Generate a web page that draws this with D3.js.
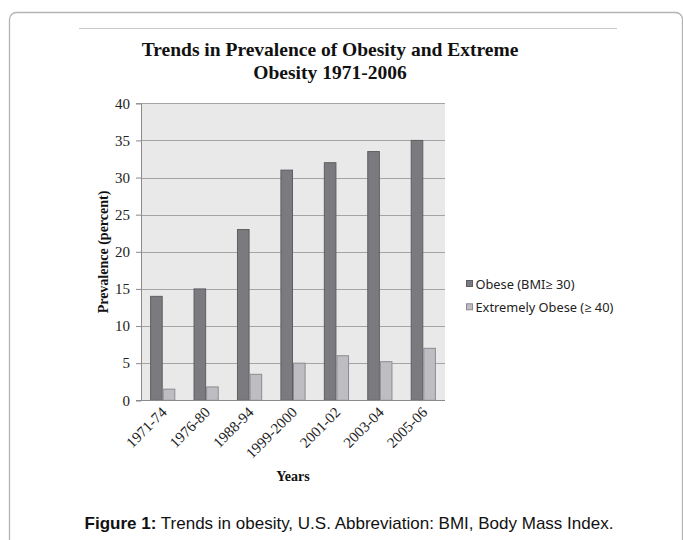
<!DOCTYPE html>
<html>
<head>
<meta charset="utf-8">
<script src="https://cdn.jsdelivr.net/npm/d3@7"></script>
<style>
  html, body { margin: 0; padding: 0; background: #fff; }
  svg { display: block; }
</style>
</head>
<body>
<svg id="chart" width="683" height="540"></svg>
<script>
// Survey periods and prevalence values (percent)
const periods = ["1971-74", "1976-80", "1988-94", "1999-2000", "2001-02", "2003-04", "2005-06"];
const obese = [14, 15, 23, 31, 32, 33.5, 35];
const extremelyObese = [1.5, 1.8, 3.5, 5, 6, 5.2, 7];
const seriesNames = ["Obese (BMI\u2265 30)", "Extremely Obese (\u2265 40)"];
const yTicks = [0, 5, 10, 15, 20, 25, 30, 35, 40];

const rows = periods.map((p, i) => ({ period: p, values: [obese[i], extremelyObese[i]] }));

const svg = d3.select("#chart");
const serif = "'Liberation Serif', 'Times New Roman', serif";
const sans = "'Liberation Sans', Arial, sans-serif";

// Panel frame
svg.append("rect")
  .attr("x", 9.5).attr("y", 12.5)
  .attr("width", 673).attr("height", 580)
  .attr("rx", 7).attr("ry", 7)
  .attr("fill", "none").attr("stroke", "#b3b3b3").attr("stroke-width", 1.3);

svg.append("line")
  .attr("x1", 79).attr("x2", 617).attr("y1", 28.5).attr("y2", 28.5)
  .attr("stroke", "#c9c9c9").attr("stroke-width", 1);

// Title
const title = svg.append("text")
  .attr("text-anchor", "middle")
  .attr("font-family", serif).attr("font-weight", "bold")
  .attr("font-size", 19.5).attr("fill", "#111");
title.append("tspan").attr("x", 330).attr("y", 56).text("Trends in Prevalence of Obesity and Extreme");
title.append("tspan").attr("x", 330).attr("y", 79).text("Obesity 1971-2006");

// Plot area
const plot = { left: 141, right: 445, top: 103.3, bottom: 400.3 };

const x0 = d3.scaleBand()
  .domain(periods)
  .range([plot.left, plot.right])
  .paddingInner(0.42)
  .paddingOuter(0.21);

const x1 = d3.scaleBand()
  .domain([0, 1])
  .range([0, x0.bandwidth()]);

const y = d3.scaleLinear()
  .domain([0, 40])
  .range([plot.bottom, plot.top]);

svg.append("rect")
  .attr("x", plot.left).attr("y", plot.top)
  .attr("width", plot.right - plot.left).attr("height", plot.bottom - plot.top)
  .attr("fill", "#e9e9e9");

// Gridlines
svg.append("g")
  .selectAll("line")
  .data(yTicks.filter(t => t > 0))
  .join("line")
  .attr("x1", plot.left).attr("x2", plot.right)
  .attr("y1", d => Math.round(y(d)) + 0.5).attr("y2", d => Math.round(y(d)) + 0.5)
  .attr("stroke", "#a4a4a4").attr("stroke-width", 1);

// Bars
const colors = ["#7b7b7f", "#bebec2"];
const strokes = ["#5e5e62", "#8c8c90"];

svg.append("g")
  .selectAll("g")
  .data(rows)
  .join("g")
  .attr("transform", d => `translate(${x0(d.period)},0)`)
  .selectAll("rect")
  .data(d => d.values.map((v, k) => ({ k, v })))
  .join("rect")
  .attr("x", d => x1(d.k) + 0.5)
  .attr("width", x1.bandwidth() - 1)
  .attr("y", d => y(d.v))
  .attr("height", d => y(0) - y(d.v))
  .attr("fill", d => colors[d.k])
  .attr("stroke", d => strokes[d.k])
  .attr("stroke-width", 1);

// Y axis
const yAxis = svg.append("g")
  .attr("transform", `translate(${plot.left},0)`)
  .call(d3.axisLeft(y).tickValues(yTicks).tickSize(5).tickPadding(6).tickFormat(d3.format("d")));
yAxis.select(".domain").attr("stroke", "#8a8a8a");
yAxis.selectAll(".tick line").attr("stroke", "#8a8a8a");
yAxis.selectAll(".tick text")
  .attr("font-family", serif).attr("font-size", 15).attr("fill", "#222");

// Baseline
svg.append("line")
  .attr("x1", plot.left - 5).attr("x2", plot.right)
  .attr("y1", Math.round(y(0)) + 0.5).attr("y2", Math.round(y(0)) + 0.5)
  .attr("stroke", "#8a8a8a");

// Category labels
const xAxis = svg.append("g")
  .attr("transform", `translate(0,${plot.bottom})`)
  .call(d3.axisBottom(x0).tickSize(0).tickPadding(0));
xAxis.select(".domain").remove();
xAxis.selectAll(".tick text")
  .attr("font-family", serif).attr("font-size", 15).attr("fill", "#222")
  .attr("text-anchor", "end")
  .attr("dy", 0)
  .attr("transform", "translate(5,13) rotate(-45)");

// Axis titles
svg.append("text")
  .attr("transform", "translate(108,252) rotate(-90)")
  .attr("text-anchor", "middle")
  .attr("font-family", serif).attr("font-weight", "bold").attr("font-size", 14)
  .attr("fill", "#111")
  .text("Prevalence (percent)");

svg.append("text")
  .attr("x", 293).attr("y", 481)
  .attr("text-anchor", "middle")
  .attr("font-family", serif).attr("font-weight", "bold").attr("font-size", 14)
  .attr("fill", "#111")
  .text("Years");

// Legend
const legend = svg.append("g")
  .selectAll("g")
  .data(seriesNames)
  .join("g")
  .attr("transform", (d, i) => `translate(466,${280 + i * 23.3})`);
legend.append("rect")
  .attr("x", 0.5).attr("y", 0.5).attr("width", 6).attr("height", 6)
  .attr("fill", (d, i) => colors[i]).attr("stroke", (d, i) => strokes[i]);
legend.append("text")
  .attr("x", 9.5).attr("y", 9)
  .attr("font-family", "'Noto Sans', 'Open Sans', sans-serif").attr("font-size", 12.8)
  .attr("fill", "#222")
  .text(d => d);

// Caption
const caption = svg.append("text")
  .attr("x", 349).attr("y", 529)
  .attr("text-anchor", "middle")
  .attr("font-family", sans).attr("font-size", 17).attr("fill", "#111");
caption.append("tspan").attr("font-weight", "bold").text("Figure 1:");
caption.append("tspan").text(" Trends in obesity, U.S. Abbreviation: BMI, Body Mass Index.");
</script>
</body>
</html>
